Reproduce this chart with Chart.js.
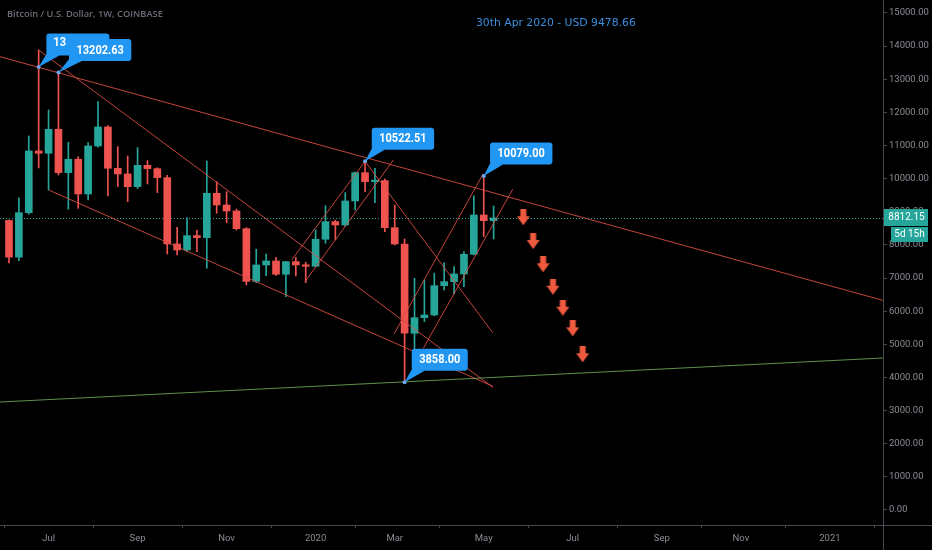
<!DOCTYPE html>
<html lang="en">
<head>
  <meta charset="UTF-8">
  <title>Bitcoin / U.S. Dollar, 1W, COINBASE</title>
  <script src="https://cdn.jsdelivr.net/npm/chart.js"></script>
  <style>
    html, body { margin: 0; padding: 0; background: #000; }
    #wrap { width: 932px; height: 550px; position: relative; }
  </style>
</head>
<body>
<div id="wrap"><canvas id="btcChart"></canvas></div>
<script>
// Weekly candles, week of 3 Jun 2019 .. week of 11 May 2020 (x = week index)
var weeks = ['2019-06-03','2019-06-10','2019-06-17','2019-06-24','2019-07-01','2019-07-08','2019-07-15','2019-07-22','2019-07-29','2019-08-05',
             '2019-08-12','2019-08-19','2019-08-26','2019-09-02','2019-09-09','2019-09-16','2019-09-23','2019-09-30','2019-10-07','2019-10-14',
             '2019-10-21','2019-10-28','2019-11-04','2019-11-11','2019-11-18','2019-11-25','2019-12-02','2019-12-09','2019-12-16','2019-12-23',
             '2019-12-30','2020-01-06','2020-01-13','2020-01-20','2020-01-27','2020-02-03','2020-02-10','2020-02-17','2020-02-24','2020-03-02',
             '2020-03-09','2020-03-16','2020-03-23','2020-03-30','2020-04-06','2020-04-13','2020-04-20','2020-04-27','2020-05-04','2020-05-11'];
var opens  = [8740, 7630, 8974, 10836, 10766, 11491, 10181, 10585, 9538, 10987,
              11560, 10313, 10142, 9759, 10403, 10302, 10030, 8029, 7848, 8280,
              8220, 9559, 9206, 9025, 8491, 6900, 7395, 7516, 7114, 7495,
              7395, 7355, 8171, 8702, 8602, 9327, 10181, 9910, 9940, 8521,
              8029, 5333, 5804, 5886, 6770, 6891, 7123, 7718, 8904, 8732];
var highs  = [8760, 9418, 11289, 13880, 12074, 13202.63, 11099, 10665, 11087, 12324,
              11600, 10966, 10685, 10936, 10543, 10330, 10100, 8533, 8823, 8450,
              10534, 9910, 9608, 9080, 8520, 7869, 7727, 7627, 7495, 7627,
              7476, 8451, 9185, 8750, 9578, 10200, 10522.51, 10314, 9990, 9206,
              8180, 6994, 6942, 7150, 7463, 7343, 7797, 9478.66, 10079, 9175];
var lows   = [7456, 7525, 8930, 10323, 9659, 10111, 9077, 9106, 9357, 10950,
              9478, 9759, 9306, 9700, 9840, 9578, 7727, 7697, 7800, 7796,
              7296, 8956, 8672, 8452, 6791, 6861, 7072, 7080, 6438, 7063,
              6861, 7340, 8050, 8150, 8560, 9055, 9608, 9276, 8400, 8000,
              3858, 4440, 5684, 5860, 6640, 6519, 6739, 7700, 8248, 8179];
var closes = [7630, 8974, 10836, 10766, 11491, 10181, 10585, 9538, 10987, 11560,
              10313, 10142, 9759, 10403, 10302, 10030, 8029, 7848, 8280, 8220,
              9559, 9206, 9025, 8491, 6900, 7395, 7516, 7114, 7495, 7395,
              7355, 8171, 8702, 8602, 9327, 10181, 9910, 9940, 8521, 8029,
              5333, 5804, 5886, 6770, 6891, 7123, 7718, 8904, 8732, 8812.15];

var xMin = -0.91, xMax = 88.37;
var yMin = -453, yMax = 15392;
var xTickPos    = [4, 13, 22, 31, 39, 48, 57, 66, 74, 83];
var xTickLabels = ['Jul', 'Sep', 'Nov', '2020', 'Mar', 'May', 'Jul', 'Sep', 'Nov', '2021'];
var yTicks = [0, 1000, 2000, 3000, 4000, 5000, 6000, 7000, 8000, 9000, 10000, 11000, 12000, 13000, 14000, 15000];

// drawn trend lines: [week index, price]
var resistLine   = [[-0.91, 13681], [88.37, 6326]];
var supportLine  = [[-0.91, 3259], [88.37, 4587]];
var channelTop   = [[3, 13880], [48.94, 3700]];
var channelBot   = [[4, 9659], [48.94, 3730]];
var janUpper     = [[28.58, 7545], [36, 10522.51]];
var janLower     = [[29.93, 6890], [38.86, 10563]];
var febDown      = [[36, 10522.51], [48.91, 5351]];
var marUpper     = [[38.93, 5312], [47.93, 10141]];
var marLower     = [[41.89, 4880], [50.93, 9679]];

// projected down arrows
var arrowX = [52, 53, 54, 55, 56, 57, 58];
var arrowY = [8834, 8118, 7415, 6739, 6105, 5483, 4699];

// price callouts
var calloutText = ['13', '13202.63', '10522.51', '10079.00', '3858.00'];
var calloutX    = [3, 5, 36, 48, 40];
var calloutY    = [13370, 13202.63, 10522.51, 10079, 3858];

var lastPrice = closes[closes.length - 1];
var timeLeft = '5d 15h';
var title = 'Bitcoin / U.S. Dollar, 1W, COINBASE';
var header = '30th Apr 2020 - USD 9478.66';

var up = '#26a69a', down = '#ef5350';
var lineRed = 'rgba(214, 76, 66, 0.9)';
var lineGreen = 'rgba(110, 170, 90, 0.85)';
var callBlue = '#2196f3';
var axisGray = '#44474f';

var candleColors = closes.map(function (c, i) { return c >= opens[i] ? up : down; });
var wickData = weeks.map(function (w, i) { return { x: i, y: [lows[i], highs[i]] }; });
var bodyData = weeks.map(function (w, i) { return { x: i, y: [opens[i], closes[i]] }; });

function seg(pts) { return pts.map(function (p) { return { x: p[0], y: p[1] }; }); }
function trend(pts, color) {
  return { type: 'line', data: seg(pts), borderColor: color, borderWidth: 1,
           pointRadius: 0, tension: 0, fill: false, order: 1 };
}

function arrowImage() {
  var c = document.createElement('canvas');
  c.width = 13; c.height = 16;
  var g = c.getContext('2d');
  g.fillStyle = '#ef5a3f';
  g.fillRect(3.5, 0, 6, 8);
  g.beginPath();
  g.moveTo(0, 7); g.lineTo(13, 7); g.lineTo(6.5, 16); g.closePath();
  g.fill();
  return c;
}

// callout box offsets from the anchor point (px)
var calloutStyle = [
  { dx: 7.7, w: 63 },
  { dx: 10.5 },
  { dx: 6.7 },
  { dx: 6.3 },
  { dx: 7.1 }
];

function roundRect(ctx, x, y, w, h, r) {
  ctx.beginPath();
  ctx.moveTo(x + r, y);
  ctx.lineTo(x + w - r, y);
  ctx.quadraticCurveTo(x + w, y, x + w, y + r);
  ctx.lineTo(x + w, y + h - r);
  ctx.quadraticCurveTo(x + w, y + h, x + w - r, y + h);
  ctx.lineTo(x + r, y + h);
  ctx.quadraticCurveTo(x, y + h, x, y + h - r);
  ctx.lineTo(x, y + r);
  ctx.quadraticCurveTo(x, y, x + r, y);
  ctx.closePath();
}

// narrow-ish tall label text
function labelText(ctx, txt, x, y, align) {
  ctx.save();
  ctx.translate(x, y);
  ctx.scale(0.88, 1);
  ctx.textAlign = align;
  ctx.fillText(txt, 0, 0);
  ctx.restore();
}

var overlay = {
  id: 'overlay',
  beforeDraw: function (chart) {
    var ctx = chart.ctx;
    ctx.save();
    ctx.fillStyle = '#000';
    ctx.fillRect(0, 0, chart.width, chart.height);
    ctx.restore();
  },
  beforeDatasetsDraw: function (chart) {
    var ctx = chart.ctx, a = chart.chartArea;
    var py = Math.round(chart.scales.y.getPixelForValue(lastPrice)) + 0.5;
    ctx.save();
    ctx.strokeStyle = up;
    ctx.lineWidth = 1;
    ctx.setLineDash([1, 2]);
    ctx.beginPath(); ctx.moveTo(a.left, py); ctx.lineTo(a.right, py); ctx.stroke();
    ctx.restore();
  },
  afterDraw: function (chart) {
    var ctx = chart.ctx, a = chart.chartArea;
    var xs = chart.scales.x, ys = chart.scales.y;
    ctx.save();

    // axis lines
    ctx.strokeStyle = axisGray;
    ctx.lineWidth = 1;
    ctx.beginPath();
    ctx.moveTo(Math.round(a.right) + 0.5, 0); ctx.lineTo(Math.round(a.right) + 0.5, chart.height);
    ctx.moveTo(0, Math.round(a.bottom) + 0.5); ctx.lineTo(chart.width, Math.round(a.bottom) + 0.5);
    ctx.stroke();

    // titles
    ctx.textBaseline = 'middle';
    ctx.textAlign = 'left';
    ctx.font = '600 11px "Open Sans"';
    var tw = ctx.measureText(title).width;
    ctx.font = '600 ' + (11 * 156 / tw).toFixed(2) + 'px "Open Sans"';
    ctx.fillStyle = '#6b6e78';
    ctx.fillText(title, 7, 14);
    ctx.font = '10.8px "DejaVu Sans"';
    ctx.fillStyle = '#3a8ee0';
    ctx.fillText(header, 476, 23);

    // callouts
    ctx.font = 'bold 12.5px Roboto';
    for (var i = 0; i < calloutText.length; i++) {
      var ax = xs.getPixelForValue(calloutX[i]);
      var ay = ys.getPixelForValue(calloutY[i]);
      var st = calloutStyle[i];
      var txtW = ctx.measureText(calloutText[i]).width * 0.88;
      var bw = st.w || (txtW + 15);
      var bh = 22, bl = ax + st.dx, bt = ay - 11.5 - bh;
      ctx.fillStyle = callBlue;
      roundRect(ctx, bl, bt, bw, bh, 3);
      ctx.fill();
      ctx.beginPath();
      ctx.moveTo(ax, ay);
      ctx.lineTo(bl + 1, bt + bh - 3);
      ctx.lineTo(bl + 13, bt + bh);
      ctx.closePath();
      ctx.fill();
      ctx.beginPath();
      ctx.arc(ax, ay, 2, 0, Math.PI * 2);
      ctx.fillStyle = '#6aa8e8';
      ctx.fill();
      ctx.fillStyle = '#fff';
      if (st.w) labelText(ctx, calloutText[i], bl + 7, bt + 9.5, 'left');
      else labelText(ctx, calloutText[i], bl + bw / 2, bt + bh / 2 + 0.5, 'center');
    }

    // last price and countdown on the price scale
    var py = ys.getPixelForValue(lastPrice);
    ctx.fillStyle = up;
    ctx.fillRect(a.right + 1, py - 9, 44, 17);
    ctx.fillRect(a.right + 8, py + 9, 37, 15);
    ctx.fillStyle = '#fff';
    ctx.textAlign = 'center';
    ctx.font = '10px Roboto';
    ctx.fillText(lastPrice.toFixed(2), a.right + 23.5, py - 0.5);
    ctx.fillText(timeLeft, a.right + 26.5, py + 16.5);
    ctx.restore();
  }
};

var ctx = document.getElementById('btcChart').getContext('2d');
Chart.defaults.font.family = 'Roboto, sans-serif';

var chart = new Chart(ctx, {
  type: 'bar',
  data: {
    datasets: [
      trend(resistLine, lineRed),
      trend(supportLine, lineGreen),
      trend(channelTop, lineRed),
      trend(channelBot, lineRed),
      trend(janUpper, lineRed),
      trend(janLower, lineRed),
      trend(febDown, lineRed),
      trend(marUpper, lineRed),
      trend(marLower, lineRed),
      {
        type: 'scatter',
        data: arrowX.map(function (x, i) { return { x: x, y: arrowY[i] }; }),
        pointStyle: arrowImage(),
        pointRadius: 7,
        order: 0
      },
      {
        label: 'wick', data: wickData, backgroundColor: candleColors,
        barThickness: 1, grouped: false, order: 3
      },
      {
        label: 'body', data: bodyData, backgroundColor: candleColors,
        barThickness: 7, grouped: false, minBarLength: 1.5, order: 2
      }
    ]
  },
  options: {
    responsive: true,
    maintainAspectRatio: false,
    animation: false,
    events: [],
    layout: { padding: 0, autoPadding: false },
    plugins: { legend: { display: false }, tooltip: { enabled: false } },
    scales: {
      x: {
        type: 'linear', min: xMin, max: xMax, offset: false,
        grid: { drawOnChartArea: false, drawTicks: true, tickLength: 3, color: axisGray },
        border: { display: false },
        ticks: {
          autoSkip: false, maxRotation: 0, padding: 5,
          color: '#8a8d96', font: { size: 9.5 },
          callback: function (v) { var k = xTickPos.indexOf(v); return k >= 0 ? xTickLabels[k] : ''; }
        },
        afterBuildTicks: function (s) { s.ticks = xTickPos.map(function (v) { return { value: v }; }); },
        afterFit: function (s) { s.height = 25; s.paddingLeft = 0; s.paddingRight = 0; }
      },
      y: {
        type: 'linear', position: 'right', min: yMin, max: yMax,
        grid: { drawOnChartArea: false, drawTicks: true, tickLength: 4, color: axisGray },
        border: { display: false },
        ticks: {
          padding: 2, color: '#8a8d96', font: { size: 9.5 },
          callback: function (v) { return Number(v).toFixed(2); }
        },
        afterBuildTicks: function (s) { s.ticks = yTicks.map(function (v) { return { value: v }; }); },
        afterFit: function (s) { s.width = 49; s.paddingTop = 0; s.paddingBottom = 0; }
      }
    }
  },
  plugins: [overlay]
});
</script>
</body>
</html>
